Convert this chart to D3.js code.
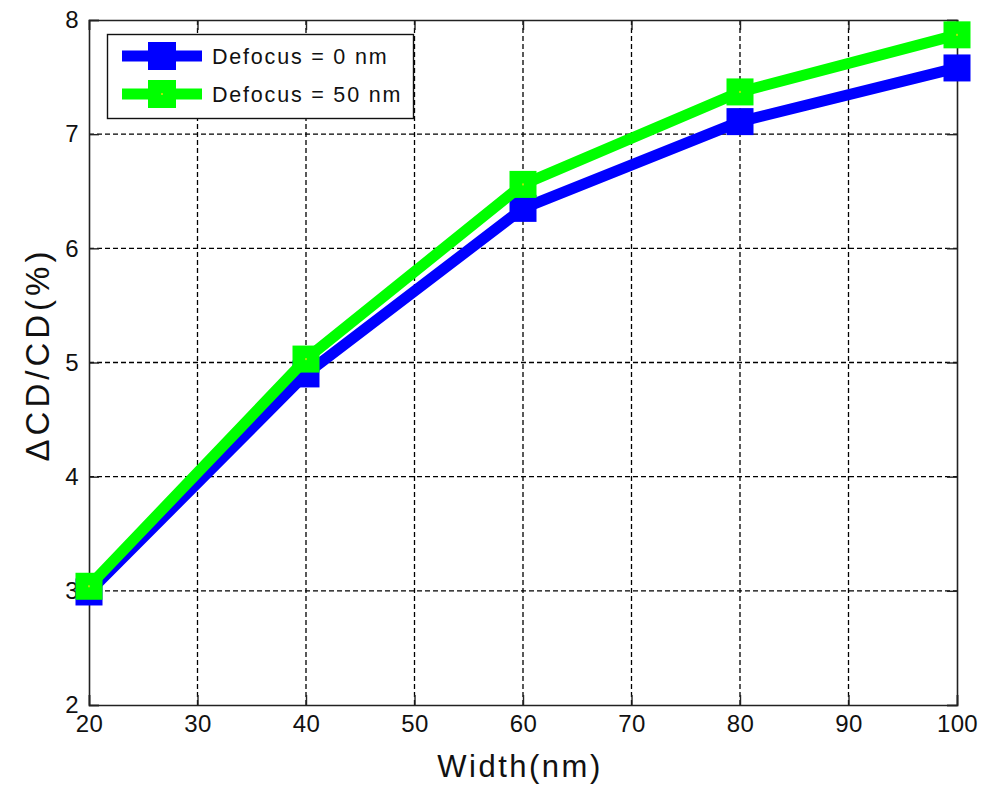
<!DOCTYPE html>
<html>
<head>
<meta charset="utf-8">
<script src="https://cdn.jsdelivr.net/npm/d3@7/dist/d3.min.js"></script>
<style>
  html, body { margin: 0; padding: 0; background: #fff; }
  svg { display: block; }
  text { font-family: Arial, "Liberation Sans", Helvetica, sans-serif; fill: #111; }
</style>
</head>
<body>
<div id="chart"></div>
<script>
// ---- data ----
const widths = [20, 40, 60, 80, 100];
const defocus0 = [2.99, 4.90, 6.35, 7.11, 7.58];
const defocus50 = [3.04, 5.03, 6.56, 7.37, 7.87];
const seriesNames = ["Defocus = 0 nm", "Defocus = 50 nm"];
const xTicks = [20, 30, 40, 50, 60, 70, 80, 90, 100];
const yTicks = [2, 3, 4, 5, 6, 7, 8];
const xLabel = "Width(nm)";
const yLabel = "\u0394CD/CD(%)";

const W = 982, H = 787;
const margin = { left: 89, right: 25, top: 20, bottom: 82 };
const pw = W - margin.left - margin.right;
const ph = H - margin.top - margin.bottom;

const svg = d3.select("#chart").append("svg").attr("width", W).attr("height", H);
const g = svg.append("g").attr("transform", `translate(${margin.left},${margin.top})`);

const x = d3.scaleLinear().domain([20, 100]).range([0, pw]);
const y = d3.scaleLinear().domain([2, 8]).range([ph, 0]);

// grid
g.append("g").selectAll("line").data(xTicks.slice(1, -1)).join("line")
  .attr("x1", d => x(d)).attr("x2", d => x(d)).attr("y1", 0).attr("y2", ph)
  .attr("stroke", "#000").attr("stroke-width", 1.3).attr("stroke-dasharray", "5,3");
g.append("g").selectAll("line").data(yTicks.slice(1, -1)).join("line")
  .attr("y1", d => y(d)).attr("y2", d => y(d)).attr("x1", 0).attr("x2", pw)
  .attr("stroke", "#000").attr("stroke-width", 1.3).attr("stroke-dasharray", "5,3");

// axes
const tickFont = "24px";
const xAxis = g.append("g").attr("transform", `translate(0,${ph})`)
  .call(d3.axisBottom(x).tickValues(xTicks).tickSize(-10).tickPadding(13).tickFormat(d3.format("d")));
const xAxisTop = g.append("g")
  .call(d3.axisTop(x).tickValues(xTicks).tickSize(-10).tickFormat(""));
const yAxis = g.append("g")
  .call(d3.axisLeft(y).tickValues(yTicks).tickSize(-10).tickPadding(10).tickFormat(d3.format("d")));
const yAxisR = g.append("g").attr("transform", `translate(${pw},0)`)
  .call(d3.axisRight(y).tickValues(yTicks).tickSize(-10).tickFormat(""));
[xAxis, xAxisTop, yAxis, yAxisR].forEach(a => {
  a.select(".domain").attr("stroke", "#222").attr("stroke-width", 1.6);
  a.selectAll(".tick line").attr("stroke", "#222").attr("stroke-width", 1.4);
  a.selectAll("text").attr("font-size", tickFont).attr("fill", "#111")
    .style("font-family", "Arial, 'Liberation Sans', sans-serif").attr("letter-spacing", "0.3px");
});
xAxis.selectAll("text").attr("dy", "0.6em");

// lines
const line = d3.line().x(d => x(d[0])).y(d => y(d[1]));
const series = [
  { vals: defocus0, color: "#0000ff", dot: "#0000ff" },
  { vals: defocus50, color: "#00ff00", dot: "#a8e800" }
];
const ms = 27;
series.forEach(s => {
  const pts = widths.map((w, i) => [w, s.vals[i]]);
  g.append("path").datum(pts).attr("d", line)
    .attr("fill", "none").attr("stroke", s.color).attr("stroke-width", 11)
    .attr("stroke-linejoin", "miter");
  g.append("g").selectAll("rect").data(pts).join("rect")
    .attr("x", d => x(d[0]) - ms / 2).attr("y", d => y(d[1]) - ms / 2)
    .attr("width", ms).attr("height", ms).attr("fill", s.color);
  g.append("g").selectAll("rect").data(pts).join("rect")
    .attr("x", d => x(d[0]) - 1).attr("y", d => y(d[1]) - 1)
    .attr("width", 2).attr("height", 2).attr("fill", s.dot);
});

// legend
const lg = svg.append("g");
lg.append("rect").attr("x", 107.5).attr("y", 34.5).attr("width", 306).attr("height", 84)
  .attr("fill", "#fff").attr("stroke", "#111").attr("stroke-width", 1.4);
series.forEach((s, i) => {
  const cy = 56 + i * 38;
  lg.append("line").attr("x1", 122).attr("x2", 202).attr("y1", cy).attr("y2", cy)
    .attr("stroke", s.color).attr("stroke-width", 11);
  lg.append("rect").attr("x", 162 - 14).attr("y", cy - 14).attr("width", 28).attr("height", 28).attr("fill", s.color);
  lg.append("rect").attr("x", 161).attr("y", cy - 1).attr("width", 2).attr("height", 2).attr("fill", s.dot);
  lg.append("text").attr("x", 212).attr("y", cy).attr("dy", "0.36em")
    .attr("font-size", "21.5px").attr("letter-spacing", "1.8px").text(seriesNames[i]);
});

// axis labels
svg.append("text").attr("x", margin.left + pw / 2 - 3).attr("y", 777)
  .attr("text-anchor", "middle").attr("font-size", "31px").attr("letter-spacing", "2.5px")
  .text(xLabel);
svg.append("text").attr("transform", `translate(49,${margin.top + ph / 2 - 8}) rotate(-90)`)
  .attr("text-anchor", "middle").attr("font-size", "33px").attr("letter-spacing", "4px")
  .text(yLabel);
</script>
</body>
</html>
